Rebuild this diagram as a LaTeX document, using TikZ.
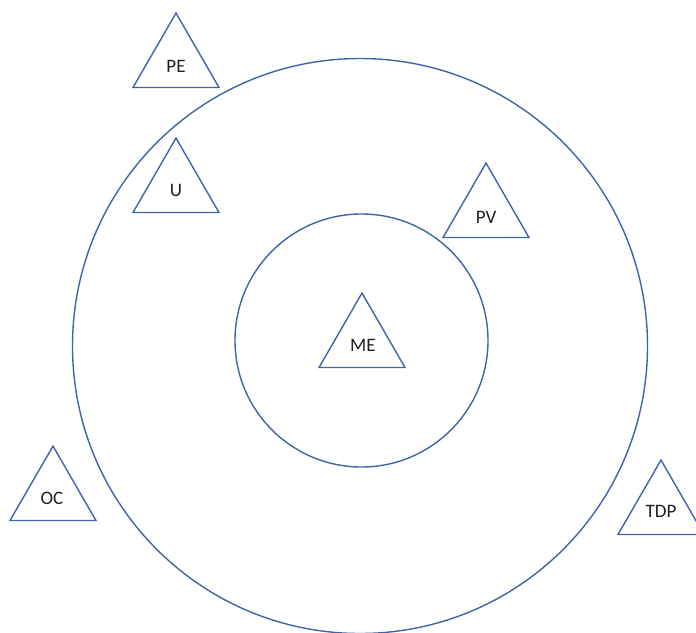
\documentclass[tikz,border=0pt]{standalone}
\usepackage{fontspec}
\setmainfont{Carlito}
\usetikzlibrary{shapes.geometric}
\definecolor{lineblue}{RGB}{64,100,168}
\begin{document}
\begin{tikzpicture}[x=1pt,y=-1pt,
  tri/.style={draw=lineblue,line width=1.4pt,regular polygon,regular polygon sides=3,minimum size=99.3pt,inner sep=0pt,fill=white},
  lbl/.style={font=\fontsize{19}{22}\selectfont,text=black!88,inner sep=0pt},
  ring/.style={draw=lineblue,line width=1.4pt}]
\useasboundingbox (0,0) rectangle (696,632);
\clip (0,0) rectangle (696,632);
\fill[white] (0,0) rectangle (696,632);
\node[ring,circle,minimum size=575pt,inner sep=0pt] (outer) at (360,346) {};
\node[ring,circle,minimum size=253pt,inner sep=0pt] (inner) at (361.5,340.5) {};
\node[tri] (tPE) at (176,62.7) {};
\node[tri] (tU) at (176,187.7) {};
\node[tri] (tPV) at (486,212.7) {};
\node[tri] (tME) at (362,342.7) {};
\node[tri] (tOC) at (53,495.7) {};
\node[tri] (tTDP) at (661,509.7) {};
\node[lbl] (PE) at (176,66) {PE};
\node[lbl] (U) at (176,190) {U};
\node[lbl] (PV) at (486,217) {PV};
\node[lbl] (ME) at (363,345) {ME};
\node[lbl] (OC) at (52,498) {OC};
\node[lbl] (TDP) at (661,511) {TDP};
\end{tikzpicture}
\end{document}
